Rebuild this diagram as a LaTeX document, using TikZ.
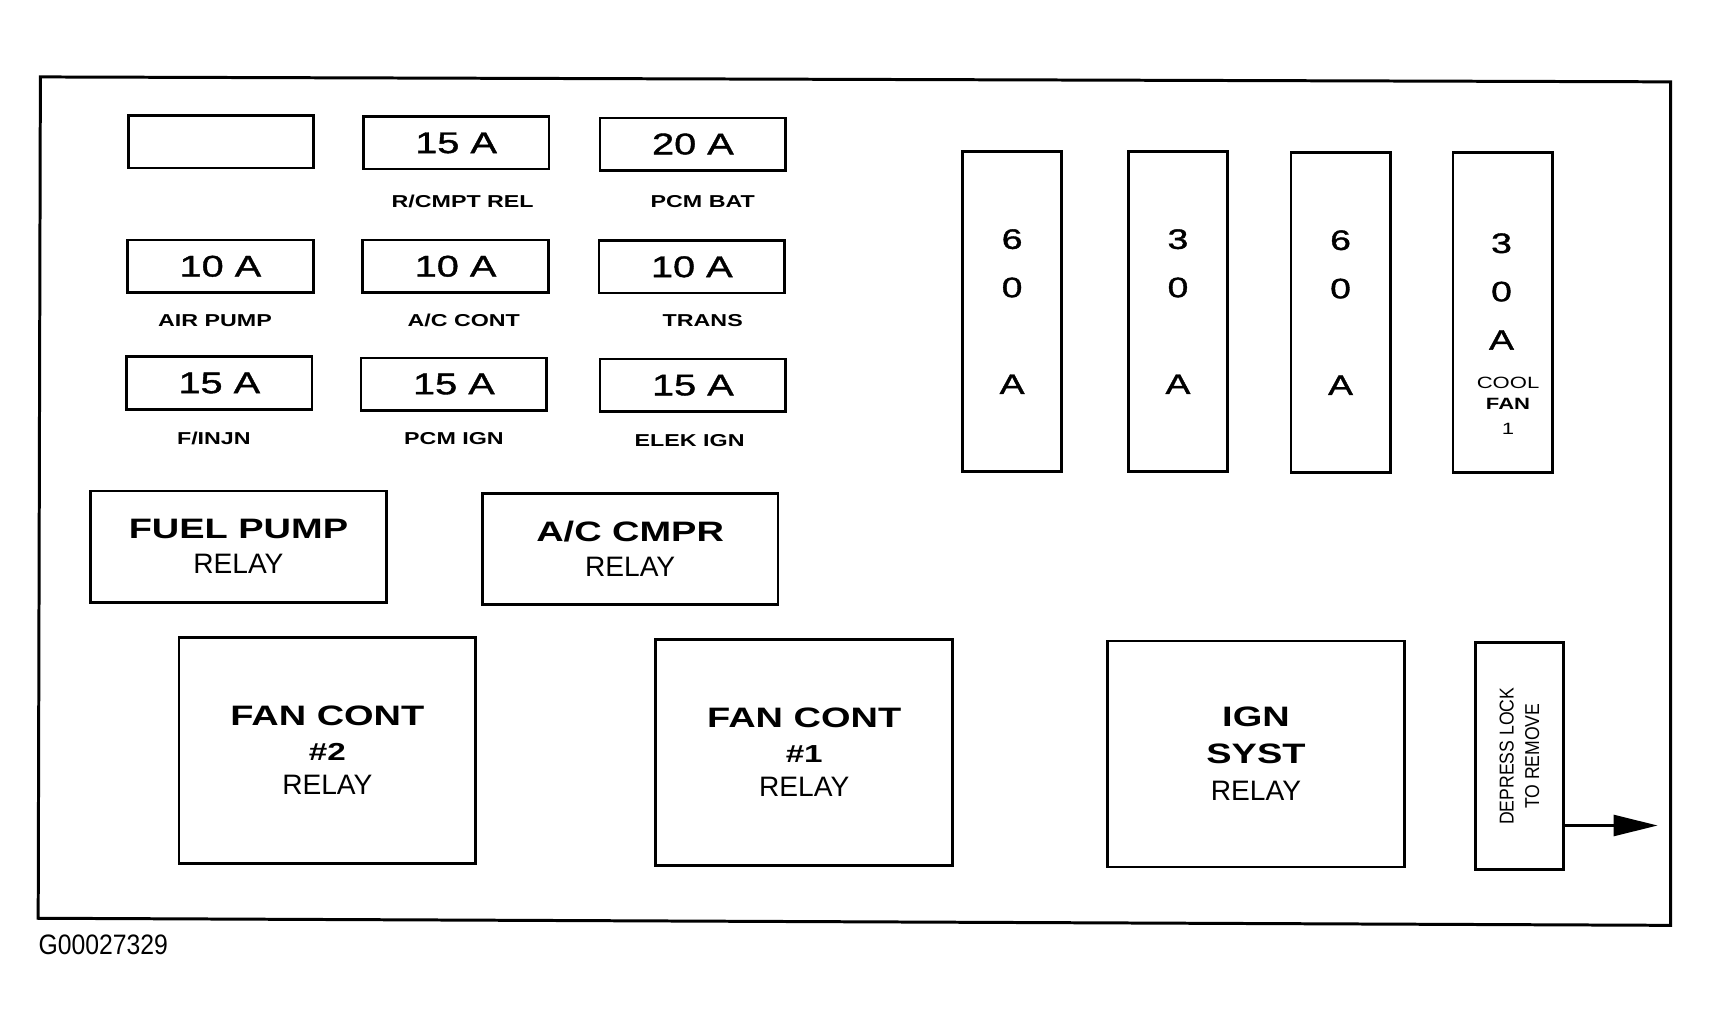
\documentclass[tikz,border=0pt]{standalone}
\usepackage{fontspec}
\setmainfont{Liberation Sans}
\newfontfamily\ancha[FakeStretch=1.35]{Liberation Sans}
\newfontfamily\media[FakeStretch=1.33, FakeBold=1.3]{Liberation Sans}
\newfontfamily\estrecha[FakeStretch=0.88]{Liberation Sans}
\usetikzlibrary{arrows.meta}

\begin{document}
\begin{tikzpicture}[
    x=0.021824cm,
    y=-0.021824cm,
    marco/.style={draw, line width=1.7pt, line join=miter},
    fusible/.style={draw, line width=1.5pt, minimum width=3.71cm, minimum height=1.048cm,
        inner sep=0pt, font=\media\fontsize{17}{20}\selectfont},
    etiqueta/.style={font=\ancha\bfseries\fontsize{9.8}{11}\selectfont, anchor=base, inner sep=0pt},
    fusiblegrande/.style={draw, line width=1.5pt, minimum width=1.986cm, minimum height=6.394cm,
        inner sep=0pt, align=center, font=\media\fontsize{16}{27.5}\selectfont},
    cifras/.style={inner sep=0pt, align=center, font=\media\fontsize{16}{27.5}\selectfont},
    nota/.style={inner sep=0pt, align=center, font=\ancha\fontsize{9.3}{12}\selectfont},
    rele/.style={draw, line width=1.5pt, minimum width=5.914cm, minimum height=2.226cm,
        inner sep=0pt, align=center, font=\fontsize{16}{20}\selectfont},
    relegrande/.style={draw, line width=1.5pt, minimum width=5.936cm, minimum height=4.518cm,
        inner sep=0pt, align=center, font=\fontsize{16}{19.5}\selectfont},
    cerrojo/.style={draw, line width=1.5pt, rotate=90, minimum width=4.539cm, minimum height=1.768cm,
        inner sep=0pt, align=center, font=\estrecha\fontsize{11.4}{14.6}\selectfont},
    flecha/.style={line width=1.3pt, -{Triangle[length=25pt, width=12pt]}},
    codigo/.style={font=\estrecha\fontsize{16}{18}\selectfont, anchor=base west, inner sep=0pt}
]
\useasboundingbox (0,0) rectangle (1568,943);

% Caja
\draw[marco] (37,70.5) -- (1531,75) -- (1531,848) -- (35,841.5) -- cycle;

% Fusible vacío
\node[fusible] (f0) at (202.5,130) {};

% Fusibles: centro / amperaje / circuito / etiqueta
\foreach \x/\y/\amp/\nombre/\xl/\yl [count=\i] in {
    418/131/15 A/{R/CMPT REL}/424/190,
    635/132/20 A/PCM BAT/644/190.5,
    202/244/10 A/AIR PUMP/197/299,
    417.5/244/10 A/{A/C CONT}/425/299.5,
    634/244.5/10 A/TRANS/644/299.5,
    201/351/15 A/{F/INJN}/196/407.5,
    416/352/15 A/PCM IGN/416/407.5,
    635/353/15 A/ELEK IGN/632/409}
{
    \node[fusible] (f\i) at (\x,\y) {\amp};
    \node[etiqueta] (e\i) at (\xl,\yl) {\nombre};
}

% Fusibles grandes
\foreach \x/\y/\dig [count=\i] in {927.5/285.5/6, 1079.5/285.5/3, 1228.5/286.5/6}
    \node[fusiblegrande] (g\i) at (\x,\y) {\dig\\0\\[27.5pt]A};

\node[fusiblegrande] (g4) at (1377,286.5) {};
\node[cifras, anchor=north] (g4amp) at (1376,213.5) {3\\0\\A};
\node[nota, anchor=north] (g4nota) at (1382,345) {COOL\\\textbf{FAN}\\[2.5pt]1};

% Relés
\node[rele] (bomba) at (218.5,501) {{\ancha\bfseries FUEL PUMP}\\RELAY};
\node[rele] (compresor) at (577.5,503) {{\ancha\bfseries A/C CMPR}\\RELAY};
\node[relegrande] (ventilador2) at (300,687.5)
    {{\ancha\bfseries FAN CONT}\\{\ancha\bfseries\fontsize{14}{19.5}\selectfont \#2}\\RELAY};
\node[relegrande] (ventilador1) at (737,689.5)
    {{\ancha\bfseries FAN CONT}\\{\ancha\bfseries\fontsize{14}{19.5}\selectfont \#1}\\RELAY};
\node[relegrande, font=\fontsize{16}{21}\selectfont] (encendido) at (1151,691)
    {{\ancha\bfseries IGN}\\{\ancha\bfseries SYST}\\RELAY};

% Cerrojo
\node[cerrojo] (bloqueo) at (1392.5,693) {DEPRESS LOCK\\TO REMOVE};
\coordinate (punta) at (1519,756.5);
\draw[flecha] (bloqueo.south |- punta) -- (punta);

\node[codigo] (ref) at (35,874.5) {G00027329};

\end{tikzpicture}
\end{document}
